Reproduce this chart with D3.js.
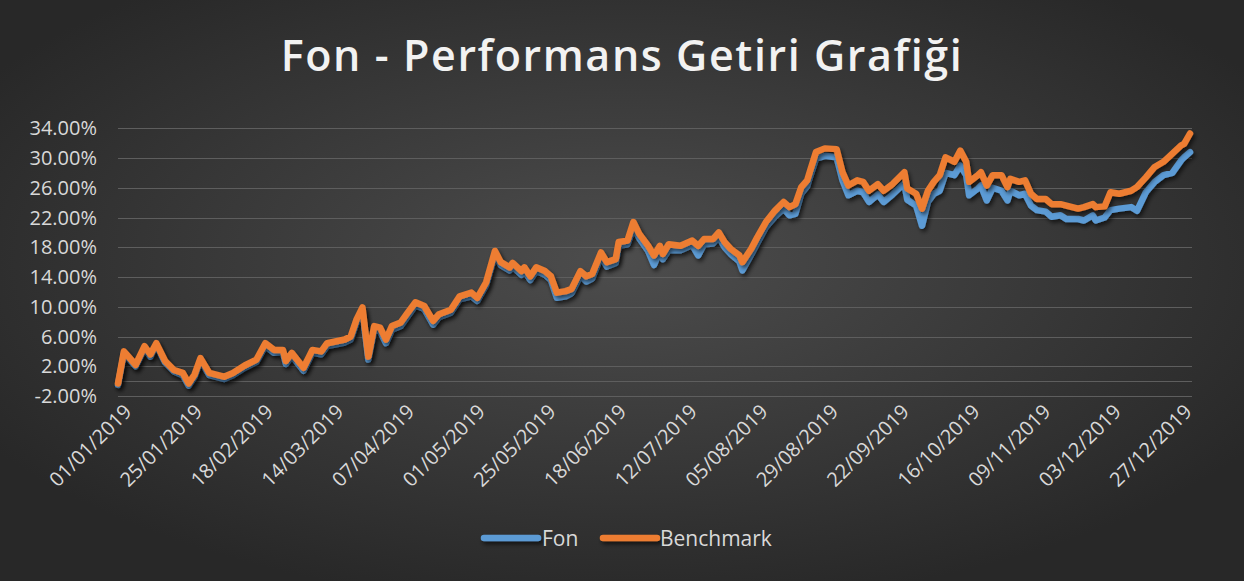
<!DOCTYPE html>
<html lang="en">
<head>
  <meta charset="utf-8">
  <script src="https://d3js.org/d3.v7.min.js"></script>
  <style>
    body { margin: 0; background: #2b2b2b; }
    svg { display: block; }
    text { font-family: "Open Sans", sans-serif; }
  </style>
</head>
<body>
  <svg></svg>
  <script>
    // values (percent)
    var dates = [
      "01/01/2019","03/01/2019","07/01/2019","10/01/2019","12/01/2019","14/01/2019","17/01/2019","20/01/2019","23/01/2019","25/01/2019",
      "27/01/2019","29/01/2019","01/02/2019","06/02/2019","09/02/2019","13/02/2019","17/02/2019","20/02/2019","23/02/2019","26/02/2019",
      "27/02/2019","01/03/2019","05/03/2019","08/03/2019","11/03/2019","13/03/2019","19/03/2019","21/03/2019","23/03/2019","25/03/2019",
      "27/03/2019","29/03/2019","31/03/2019","02/04/2019","04/04/2019","07/04/2019","09/04/2019","12/04/2019","15/04/2019","18/04/2019",
      "20/04/2019","24/04/2019","27/04/2019","01/05/2019","03/05/2019","06/05/2019","09/05/2019","11/05/2019","14/05/2019","15/05/2019",
      "18/05/2019","19/05/2019","21/05/2019","23/05/2019","26/05/2019","28/05/2019","30/05/2019","02/06/2019","04/06/2019","07/06/2019",
      "09/06/2019","11/06/2019","14/06/2019","16/06/2019","19/06/2019","20/06/2019","23/06/2019","25/06/2019","27/06/2019","30/06/2019",
      "02/07/2019","04/07/2019","05/07/2019","07/07/2019","11/07/2019","15/07/2019","17/07/2019","19/07/2019","22/07/2019","24/07/2019",
      "26/07/2019","28/07/2019","31/07/2019","01/08/2019","04/08/2019","06/08/2019","09/08/2019","12/08/2019","15/08/2019","17/08/2019",
      "19/08/2019","21/08/2019","23/08/2019","24/08/2019","26/08/2019","29/08/2019","02/09/2019","04/09/2019","06/09/2019","09/09/2019",
      "11/09/2019","13/09/2019","16/09/2019","18/09/2019","21/09/2019","25/09/2019","26/09/2019","29/09/2019","01/10/2019","03/10/2019",
      "05/10/2019","07/10/2019","09/10/2019","12/10/2019","14/10/2019","16/10/2019","17/10/2019","20/10/2019","21/10/2019","23/10/2019",
      "25/10/2019","28/10/2019","30/10/2019","31/10/2019","03/11/2019","05/11/2019","07/11/2019","09/11/2019","12/11/2019","14/11/2019",
      "17/11/2019","19/11/2019","23/11/2019","25/11/2019","28/11/2019","29/11/2019","02/12/2019","04/12/2019","07/12/2019","11/12/2019",
      "13/12/2019","16/12/2019","19/12/2019","22/12/2019","25/12/2019","28/12/2019","29/12/2019","31/12/2019"
    ];

    var benchmark = [
      -0.3, 4.0, 2.2, 4.7, 3.6, 5.1, 2.7, 1.5, 1.1, -0.3,
      0.9, 3.1, 1.1, 0.6, 1.1, 2.1, 2.9, 5.1, 4.2, 4.2,
      2.7, 3.8, 1.8, 4.2, 4.0, 5.1, 5.6, 6.0, 8.3, 9.9,
      3.3, 7.4, 7.2, 5.6, 7.4, 7.9, 9.0, 10.6, 10.1, 8.1,
      9.0, 9.6, 11.4, 11.9, 11.2, 13.3, 17.5, 16.0, 15.3, 15.9,
      14.8, 15.3, 14.1, 15.3, 14.8, 14.1, 11.9, 12.1, 12.4, 14.8,
      14.1, 14.4, 17.3, 16.0, 16.4, 18.7, 18.9, 21.4, 19.8, 18.2,
      16.9, 18.2, 17.1, 18.4, 18.2, 18.9, 18.2, 19.1, 19.1, 20.0,
      18.7, 17.8, 16.9, 16.0, 17.8, 19.3, 21.4, 22.9, 24.1, 23.4,
      23.8, 26.1, 27.0, 28.3, 30.8, 31.3, 31.2, 28.1, 26.3, 27.0,
      26.8, 25.6, 26.5, 25.6, 26.5, 28.1, 25.9, 25.2, 23.2, 25.6,
      26.8, 27.7, 30.1, 29.5, 31.0, 29.5, 26.8, 27.7, 28.1, 26.3,
      27.7, 27.7, 26.1, 27.2, 26.8, 27.0, 25.2, 24.5, 24.5, 23.8,
      23.8, 23.6, 23.2, 23.4, 23.8, 23.4, 23.5, 25.4, 25.2, 25.6,
      26.1, 27.4, 28.8, 29.5, 30.6, 31.7, 31.9, 33.3
    ];

    var fon = [
      -0.5, 3.7, 2.0, 4.4, 3.3, 4.9, 2.5, 1.3, 0.8, -0.6,
      0.6, 2.8, 0.8, 0.3, 0.8, 1.8, 2.6, 4.7, 3.8, 3.9,
      2.3, 3.4, 1.4, 3.8, 3.6, 4.7, 5.2, 5.6, 7.9, 9.4,
      2.9, 6.9, 6.7, 5.1, 6.9, 7.4, 8.5, 10.2, 9.7, 7.6,
      8.6, 9.2, 11.0, 11.4, 10.8, 12.9, 17.0, 15.6, 14.9, 15.4,
      14.3, 14.8, 13.6, 14.8, 14.3, 13.6, 11.2, 11.4, 11.8, 14.2,
      13.4, 13.8, 16.8, 15.4, 15.9, 18.2, 18.4, 20.7, 19.2, 17.5,
      15.6, 17.5, 16.4, 17.6, 17.6, 18.3, 16.9, 18.4, 18.5, 19.4,
      18.0, 17.1, 16.1, 14.9, 17.0, 18.5, 20.7, 22.1, 23.2, 22.3,
      22.5, 25.2, 26.2, 27.5, 29.9, 30.3, 30.1, 27.0, 25.0, 25.6,
      25.4, 24.1, 25.1, 24.1, 25.1, 26.6, 24.4, 23.6, 20.9, 24.1,
      25.2, 25.6, 28.0, 27.7, 29.0, 27.7, 25.0, 25.9, 26.3, 24.3,
      26.0, 25.6, 24.3, 25.6, 25.0, 25.2, 23.6, 23.0, 22.8, 22.1,
      22.3, 21.8, 21.8, 21.6, 22.3, 21.6, 22.0, 23.0, 23.2, 23.4,
      22.9, 25.4, 26.8, 27.7, 28.0, 29.7, 30.1, 30.8
    ];

    var yTicks = [-2, 2, 6, 10, 14, 18, 22, 26, 30, 34];
    var xTickLabels = [
      "01/01/2019","25/01/2019","18/02/2019","14/03/2019","07/04/2019","01/05/2019","25/05/2019","18/06/2019",
      "12/07/2019","05/08/2019","29/08/2019","22/09/2019","16/10/2019","09/11/2019","03/12/2019","27/12/2019"
    ];

    var width = 1244,
      height = 581,
      margin = { top: 128, right: 52, bottom: 185, left: 118 };

    var parseDate = d3.timeParse('%d/%m/%Y');

    var svg = d3.select('svg')
      .attr('width', width)
      .attr('height', height);

    var defs = svg.append('defs');

    var bg = defs.append('radialGradient')
      .attr('id', 'bg')
      .attr('cx', '50%').attr('cy', '45%').attr('r', '60%');
    bg.append('stop').attr('offset', '0%').attr('stop-color', '#4d4d4d');
    bg.append('stop').attr('offset', '100%').attr('stop-color', '#282828');

    var shadow = defs.append('filter')
      .attr('id', 'shadow')
      .attr('filterUnits', 'userSpaceOnUse')
      .attr('x', 0).attr('y', 0).attr('width', width).attr('height', height);
    shadow.append('feDropShadow')
      .attr('dx', 2).attr('dy', 3).attr('stdDeviation', 2)
      .attr('flood-color', '#000').attr('flood-opacity', 0.6);

    svg.append('rect')
      .attr('width', width)
      .attr('height', height)
      .attr('fill', 'url(#bg)');

    // title
    svg.append('text')
      .attr('x', 622)
      .attr('y', 71)
      .attr('text-anchor', 'middle')
      .attr('fill', '#f2f2f2')
      .style('font-size', '43px')
      .style('font-weight', 600)
      .style('letter-spacing', '1.6px')
      .text('Fon - Performans Getiri Grafiği');

    var x = d3.scaleTime()
      .domain([parseDate('01/01/2019'), parseDate('31/12/2019')])
      .range([margin.left, 1190]);

    var y = d3.scaleLinear()
      .domain([-2, 34])
      .range([396, 128.3]);

    // gridlines
    svg.append('g')
      .selectAll('line')
      .data(yTicks)
      .enter().append('line')
      .attr('x1', margin.left)
      .attr('x2', 1192)
      .attr('y1', function (d) { return Math.round(y(d)) + 0.5; })
      .attr('y2', function (d) { return Math.round(y(d)) + 0.5; })
      .attr('stroke', '#5e5e5e')
      .attr('stroke-width', 1.2);

    // horizontal axis crosses at zero
    svg.append('line')
      .attr('x1', margin.left)
      .attr('x2', 1192)
      .attr('y1', Math.round(y(0)) + 0.5)
      .attr('y2', Math.round(y(0)) + 0.5)
      .attr('stroke', '#5e5e5e')
      .attr('stroke-width', 1.2);

    // y labels (plain hyphen for negatives, like Excel)
    svg.append('g')
      .selectAll('text')
      .data(yTicks)
      .enter().append('text')
      .attr('x', 97)
      .attr('y', function (d) { return y(d) + 7; })
      .attr('text-anchor', 'end')
      .attr('fill', '#d9d9d9')
      .style('font-size', '20px')
      .text(function (d) { return d3.format('.2f')(d).replace('\u2212', '-') + '%'; });

    // x labels, rotated
    svg.append('g')
      .selectAll('text')
      .data(xTickLabels)
      .enter().append('text')
      .attr('transform', function (d) {
        return 'translate(' + (x(parseDate(d)) + 5) + ',403) rotate(-45)';
      })
      .attr('text-anchor', 'end')
      .attr('dy', '0.7em')
      .attr('fill', '#d9d9d9')
      .style('font-size', '20px')
      .text(function (d) { return d; });

    var line = d3.line()
      .x(function (d) { return x(d.date); })
      .y(function (d) { return y(d.value); });

    var series = [
      { name: 'Fon', color: '#5b9bd5', values: fon },
      { name: 'Benchmark', color: '#ed7d31', values: benchmark }
    ];

    series.forEach(function (s) {
      var pts = dates.map(function (d, i) {
        return { date: parseDate(d), value: s.values[i] };
      });
      svg.append('path')
        .datum(pts)
        .attr('d', line)
        .attr('fill', 'none')
        .attr('stroke', s.color)
        .attr('stroke-width', 6.5)
        .attr('stroke-linejoin', 'round')
        .attr('stroke-linecap', 'round')
        .attr('filter', 'url(#shadow)');
    });

    // legend
    var legendPos = [{ x: 484, tx: 542 }, { x: 603, tx: 660 }];
    var legend = svg.append('g');
    series.forEach(function (s, i) {
      legend.append('line')
        .attr('x1', legendPos[i].x)
        .attr('x2', legendPos[i].x + 54)
        .attr('y1', 538)
        .attr('y2', 538)
        .attr('stroke', s.color)
        .attr('stroke-width', 6.5)
        .attr('stroke-linecap', 'round')
        .attr('filter', 'url(#shadow)');
      legend.append('text')
        .attr('x', legendPos[i].tx)
        .attr('y', 546)
        .attr('fill', '#d9d9d9')
        .style('font-size', '21px')
        .text(s.name);
    });
  </script>
</body>
</html>
